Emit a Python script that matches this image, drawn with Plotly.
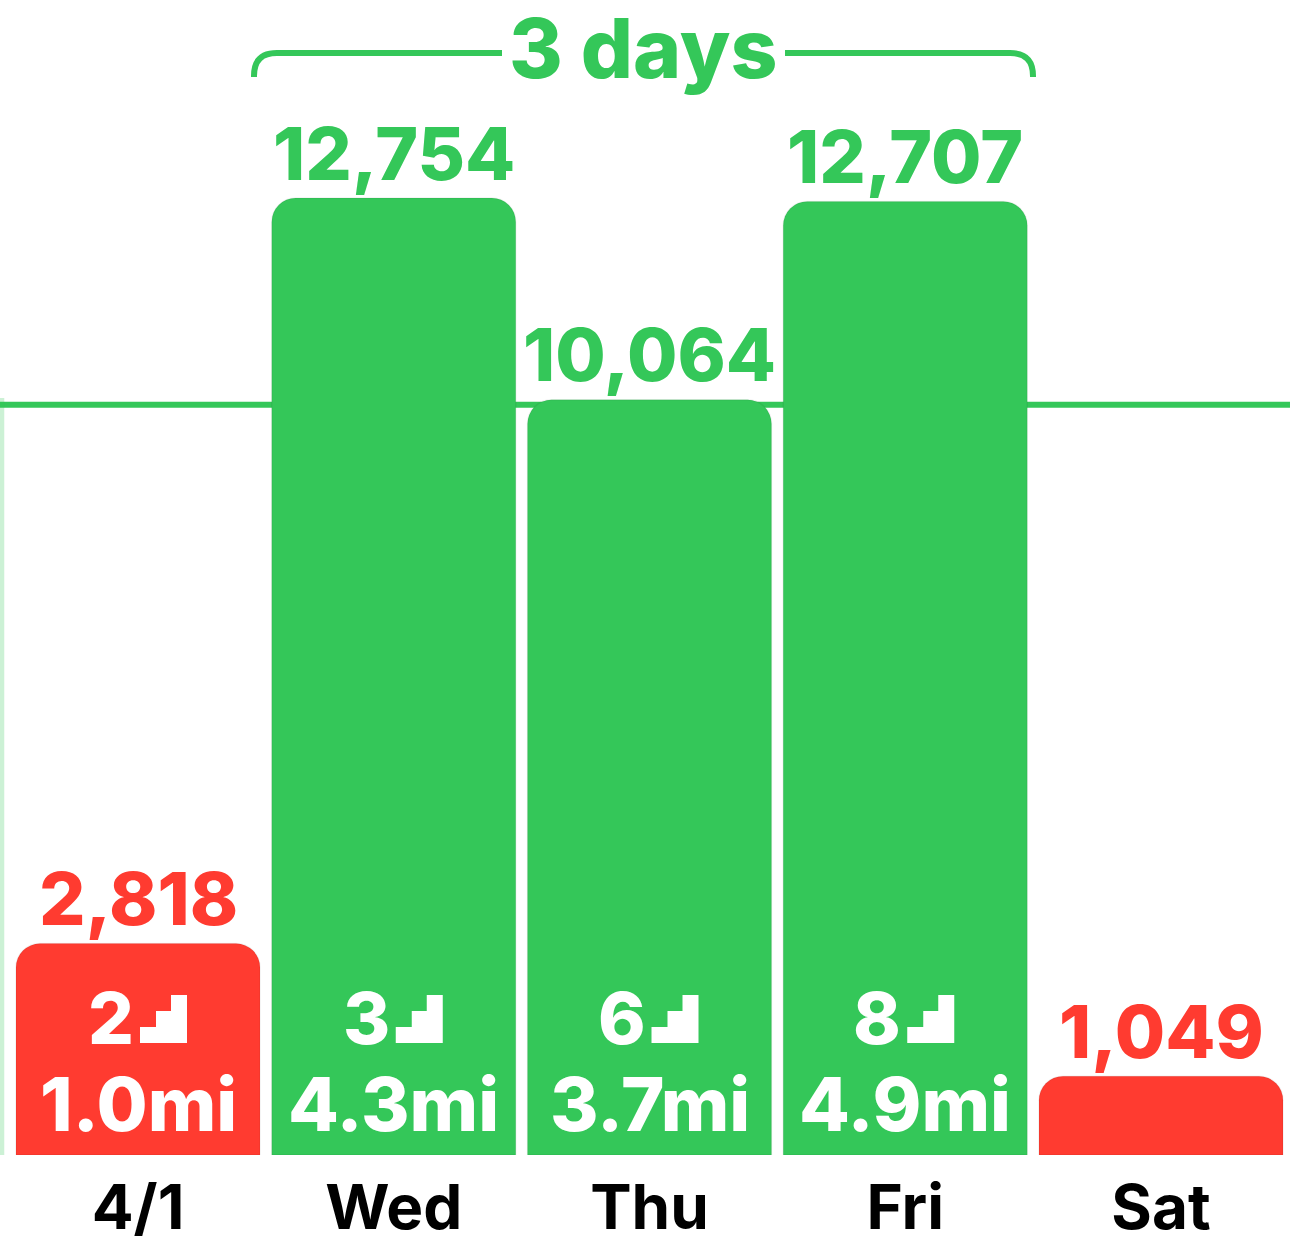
import plotly.graph_objects as go

days = ["", "4/1", "Wed", "Thu", "Fri", "Sat"]
positions = [-1, 0, 1, 2, 3, 4]
steps = [10090, 2818, 12754, 10064, 12707, 1049]
flights = [None, 2, 3, 6, 8, None]
miles = [None, 1.0, 4.3, 3.7, 4.9, None]
goal = 10000
streak_label = "3 days"

GREEN = "#34C759"
RED = "#FF3B30"
FAINT = "rgba(52,199,89,0.25)"
FONT = "Inter"

W, H = 1290, 1250
BASE = 1155
PX_PER_STEP = 957 / 12754
PITCH = 255.75
X0 = 138


def bar_color(p, v):
    if p < 0:
        return FAINT
    return GREEN if v >= goal else RED


colors = [bar_color(p, v) for p, v in zip(positions, steps)]


def py(px):
    return (BASE - px) / BASE


def pix_shape(path, **kw):
    return dict(type="path", path=path, xref="paper", yref="paper", xsizemode="pixel",
                ysizemode="pixel", xanchor=0, yanchor=1, **kw)


fig = go.Figure()
fig.add_bar(x=positions[:1], y=steps[:1], width=244 / PITCH,
            marker=dict(color=colors[:1], line=dict(width=0), cornerradius=0), hoverinfo="skip")
fig.add_bar(x=positions[1:], y=steps[1:], width=244 / PITCH,
            marker=dict(color=colors[1:], line=dict(width=1.5, color="rgba(0,0,0,0.06)"), cornerradius=24),
            hoverinfo="skip")

anns = []
for p, v, c in zip(positions, steps, colors):
    if p < 0:
        continue
    anns.append(dict(x=p, y=v, xref="x", yref="y", text=f"{v:,}", showarrow=False, yanchor="bottom",
                     yshift=-1.5, font=dict(family=FONT, size=73, color=c, weight=800)))

for p, f, m in zip(positions, flights, miles):
    if f is None:
        continue
    anns.append(dict(x=p, y=py(1017), xref="x", yref="paper", text=str(f), showarrow=False,
                     xanchor="right", xshift=-2, yanchor="middle",
                     font=dict(family=FONT, size=72, color="white", weight=800)))
    anns.append(dict(x=p, y=py(1104), xref="x", yref="paper", text=f"{m:.1f}mi", showarrow=False,
                     yanchor="middle", font=dict(family=FONT, size=74, color="white", weight=800)))

anns.append(dict(x=643 / W, y=py(48), xref="paper", yref="paper", text=streak_label, showarrow=False,
                 yanchor="middle", font=dict(family=FONT, size=82, color=GREEN, weight=800)))

shapes = [dict(type="line", xref="paper", yref="y", x0=0, x1=1, y0=goal, y1=goal, layer="below",
               line=dict(color=GREEN, width=6))]

shapes.append(pix_shape("M254,-77 L254,-76 C254,-60 262,-53 277,-53 L502,-53", line=dict(color=GREEN, width=6)))
shapes.append(pix_shape("M785,-53 L1010,-53 C1025,-53 1033,-60 1033,-76 L1033,-77", line=dict(color=GREEN, width=6)))

for p, f in zip(positions, flights):
    if f is None:
        continue
    shapes.append(dict(type="path", xref="x", yref="paper", xsizemode="pixel", ysizemode="pixel",
                       xanchor=p, yanchor=py(1043),
                       path="M2,0 L49,0 L49,48 L33,48 L33,32 L18,32 L18,16 L2,16 Z",
                       fillcolor="white", line=dict(width=0)))

fig.update_layout(
    width=W, height=H, margin=dict(l=0, r=0, t=0, b=H - BASE),
    paper_bgcolor="white", plot_bgcolor="white", showlegend=False, hovermode=False,
    barmode="overlay", annotations=anns, shapes=shapes,
    xaxis=dict(range=[-X0 / PITCH, (W - X0) / PITCH], tickvals=positions, ticktext=days, automargin=False,
               showgrid=False, zeroline=False, showline=False, ticks="", ticklen=0, ticklabelstandoff=11,
               tickfont=dict(family=FONT, size=62, color="black", weight=700)),
    yaxis=dict(range=[0, BASE / PX_PER_STEP], visible=False, automargin=False),
)

fig.write_html("out.html", config={"displayModeBar": False},
               post_script="document.body.style.margin='0';")
